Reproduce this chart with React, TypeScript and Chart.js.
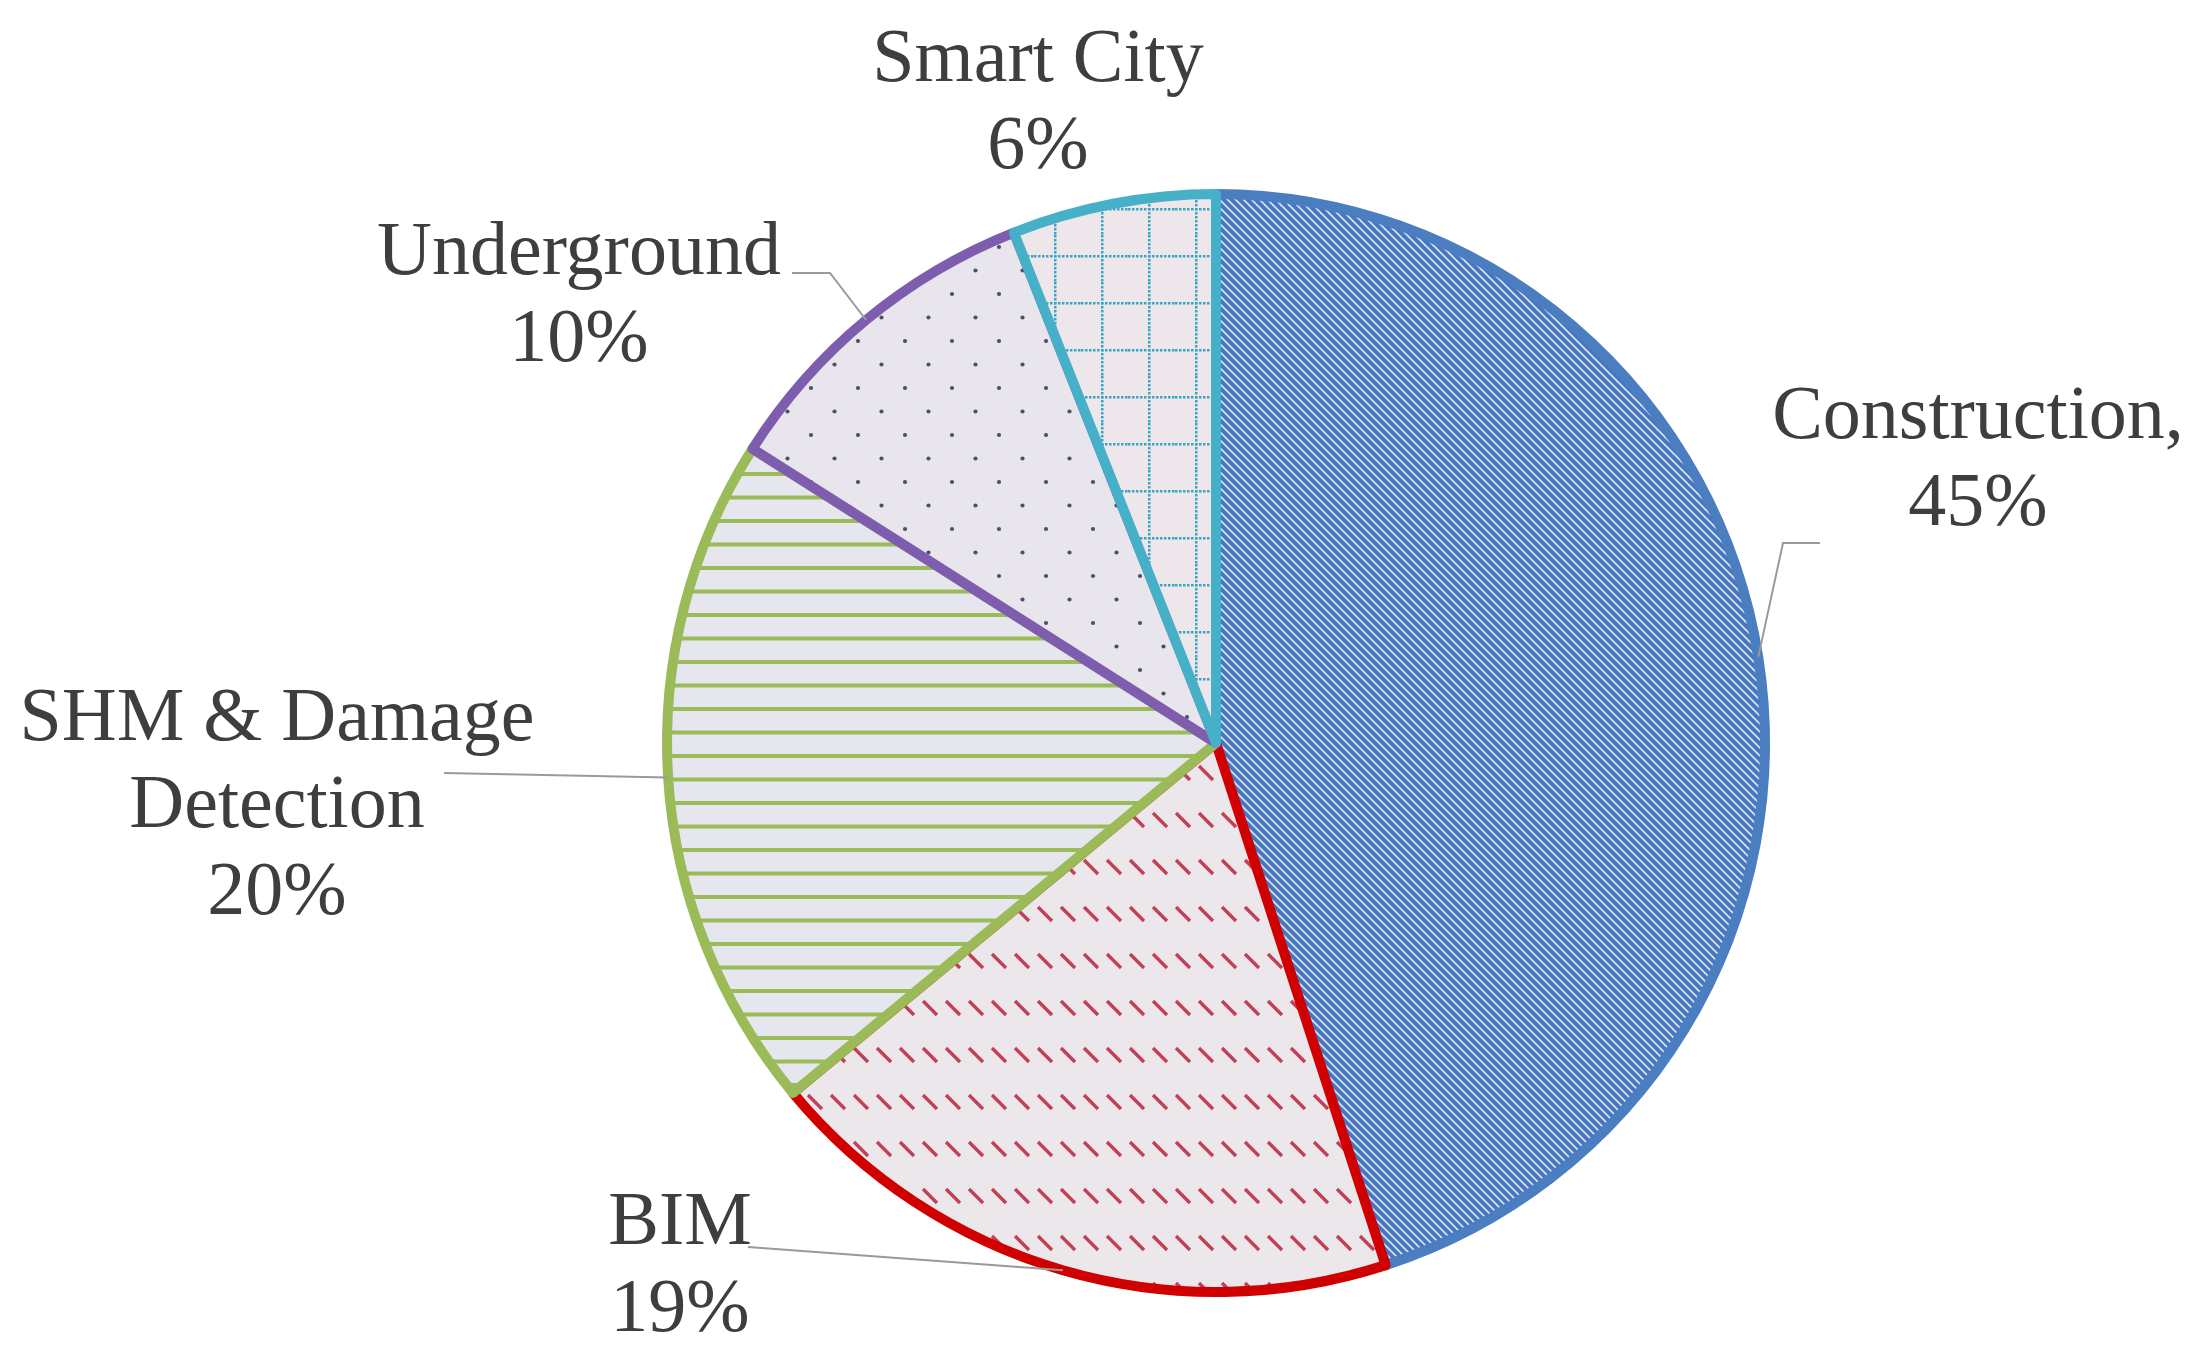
import React, { useEffect, useRef } from "react";
import { Chart, registerables } from "chart.js";

Chart.register(...registerables);

// ---- data ----
const categories = ["Construction", "BIM", "SHM & Damage Detection", "Underground", "Smart City"];
const shares = [45, 19, 20, 10, 6];
const labelNameLines = [["Construction,"], ["BIM"], ["SHM & Damage", "Detection"], ["Underground"], ["Smart City"]];

// ---- styles / layout ----
const borderColors = ["#4A7EC0", "#D00000", "#9BBB59", "#7E5CAE", "#45B0C8"];
const labelLayout = [
  { x: 1978, y: 438, leader: [[1820, 543], [1783, 543]] },
  { x: 680, y: 1244, leader: [[748, 1247]] },
  { x: 277, y: 740, leader: [[444, 773]] },
  { x: 579, y: 274, leader: [[792, 273], [830, 273]] },
  { x: 1038, y: 81, leader: null as null | number[][] },
];
const LINE_H = 87;

function tile(w: number, h: number, draw: (c: CanvasRenderingContext2D) => void) {
  const cv = document.createElement("canvas");
  cv.width = w;
  cv.height = h;
  const c = cv.getContext("2d")!;
  draw(c);
  return c.createPattern(cv, "repeat")!;
}

function makePatterns() {
  const construction = tile(8, 8, (c) => {
    c.fillStyle = "#CFDEF3";
    c.fillRect(0, 0, 8, 8);
    c.strokeStyle = "#4675C2";
    c.lineWidth = 3.8;
    for (const k of [-8, 0, 8]) {
      c.beginPath();
      c.moveTo(-2, k - 2);
      c.lineTo(10, k + 10);
      c.stroke();
    }
  });
  const bim = tile(23, 47, (c) => {
    c.fillStyle = "#ECE7EB";
    c.fillRect(0, 0, 23, 47);
    c.strokeStyle = "rgba(190,45,70,0.9)";
    c.lineWidth = 3.4;
    c.beginPath();
    c.moveTo(3, 14);
    c.lineTo(17, 28);
    c.stroke();
  });
  const shm = tile(8, 47, (c) => {
    c.fillStyle = "#E6E7EE";
    c.fillRect(0, 0, 8, 47);
    c.fillStyle = "#9BBB59";
    c.fillRect(0, 2, 8, 4);
    c.fillRect(0, 25.5, 8, 4);
  });
  const under = tile(47, 47, (c) => {
    c.fillStyle = "#E8E6EC";
    c.fillRect(0, 0, 47, 47);
    c.fillStyle = "#4F4F62";
    for (const [x, y] of [[12, 12], [35.5, 35.5]]) {
      c.beginPath();
      c.arc(x, y, 2.1, 0, Math.PI * 2);
      c.fill();
    }
  });
  const smart = tile(47, 47, (c) => {
    c.fillStyle = "#EDE6EA";
    c.fillRect(0, 0, 47, 47);
    c.fillStyle = "#38A6C2";
    for (let i = 0; i < 47; i += 4) {
      c.fillRect(i, 20, 2.5, 2.5);
      c.fillRect(20, i, 2.5, 2.5);
    }
  });
  return [construction, bim, shm, under, smart];
}

const labelPlugin = {
  id: "pieLabels",
  afterDatasetsDraw(chart: any) {
    const ctx: CanvasRenderingContext2D = chart.ctx;
    const meta = chart.getDatasetMeta(0);
    ctx.save();
    meta.data.forEach((el: any, i: number) => {
      const lay = labelLayout[i];
      const mid = (el.startAngle + el.endAngle) / 2;
      const px = el.x + Math.cos(mid) * el.outerRadius;
      const py = el.y + Math.sin(mid) * el.outerRadius;
      if (lay.leader) {
        ctx.strokeStyle = "#9A9A9A";
        ctx.lineWidth = 2;
        ctx.beginPath();
        ctx.moveTo(lay.leader[0][0], lay.leader[0][1]);
        for (let k = 1; k < lay.leader.length; k++) ctx.lineTo(lay.leader[k][0], lay.leader[k][1]);
        ctx.lineTo(px, py);
        ctx.stroke();
      }
      const lines = [...labelNameLines[i], `${shares[i]}%`];
      ctx.fillStyle = "#3E3E3E";
      ctx.font = '76px "Liberation Serif", "Times New Roman", serif';
      ctx.textAlign = "center";
      ctx.textBaseline = "alphabetic";
      lines.forEach((t, k) => ctx.fillText(t, lay.x, lay.y + k * LINE_H));
    });
    ctx.restore();
  },
};

export default function App() {
  const ref = useRef<HTMLCanvasElement | null>(null);
  useEffect(() => {
    document.body.style.margin = "0";
    document.body.style.background = "#ffffff";
    const canvas = ref.current!;
    const chart = new Chart(canvas, {
      type: "pie",
      data: {
        labels: categories,
        datasets: [
          {
            data: shares,
            backgroundColor: makePatterns() as any,
            borderColor: borderColors,
            borderWidth: 10,
            borderJoinStyle: "round",
          } as any,
        ],
      },
      options: {
        responsive: false,
        animation: false,
        devicePixelRatio: 1,
        layout: { padding: { left: 662, right: 432, top: 189, bottom: 71 } },
        plugins: { legend: { display: false }, tooltip: { enabled: false } },
      },
      plugins: [labelPlugin],
    });
    return () => chart.destroy();
  }, []);
  return (
    <div style={{ width: 2202, height: 1368, background: "#fff" }}>
      <canvas ref={ref} width={2202} height={1368} style={{ display: "block" }} />
    </div>
  );
}
